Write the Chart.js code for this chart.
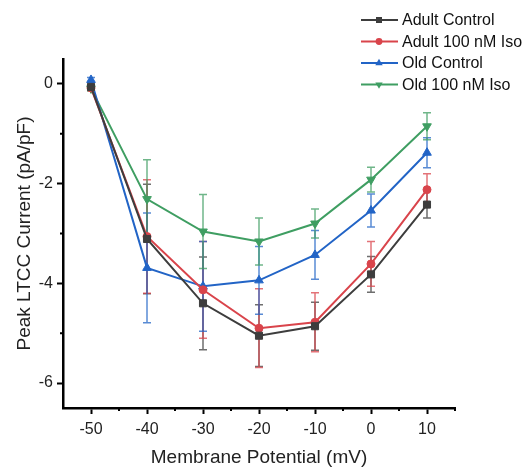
<!DOCTYPE html>
<html>
<head>
<meta charset="utf-8">
<script src="https://cdn.jsdelivr.net/npm/chart.js@4.4.1/dist/chart.umd.min.js"></script>
<style>
    html, body { margin: 0; padding: 0; background: #fff; }
    #wrap { width: 526px; height: 468px; }
</style>
</head>
<body>
<div id="wrap"><canvas id="ivChart" width="526" height="468"></canvas></div>
<script>
// 🔹 data
const voltages = [-50, -40, -30, -20, -10, 0, 10];

const adultControl = [-0.06, -3.11, -4.40, -5.05, -4.86, -3.82, -2.42];
const adultControlErr = [0.05, 1.10, 0.93, 0.62, 0.48, 0.36, 0.27];

const adultIso = [-0.08, -3.06, -4.13, -4.90, -4.78, -3.61, -2.12];
const adultIsoErr = [0.05, 1.14, 0.97, 0.79, 0.59, 0.45, 0.32];

const oldControl = [0.08, -3.69, -4.06, -3.94, -3.43, -2.54, -1.38];
const oldControlErr = [0.05, 1.10, 0.90, 0.68, 0.49, 0.33, 0.30];

const oldIso = [-0.09, -2.31, -2.96, -3.16, -2.80, -1.92, -0.85];
const oldIsoErr = [0.05, 0.79, 0.74, 0.47, 0.29, 0.25, 0.27];

const seriesNames = ["Adult Control", "Adult 100 nM Iso", "Old Control", "Old 100 nM Iso"];

const xTicks = [-50, -40, -30, -20, -10, 0, 10];
const xMinorTicks = [-45, -35, -25, -15, -5, 5, 15];
const yTicks = [0, -2, -4, -6];
const yMinorTicks = [-1, -3, -5];

const FONT = "'Liberation Sans', Arial, sans-serif";

const makeSet = (label, values, errors, color, style, rotation, radius) => ({
    label: label,
    data: voltages.map((v, i) => ({ x: v, y: values[i] })),
    errors: errors,
    borderColor: color,
    backgroundColor: color,
    borderWidth: 2,
    pointStyle: style,
    pointRotation: rotation,
    pointRadius: radius,
    pointBorderWidth: 1,
    pointBorderColor: color,
    tension: 0
});

// error bars (mean ± SEM), drawn under the lines
const errorBars = {
    id: "errorBars",
    beforeDatasetsDraw(chart) {
        const ctx = chart.ctx;
        const xs = chart.scales.x, ys = chart.scales.y;
        chart.data.datasets.forEach(ds => {
            ctx.save();
            ctx.strokeStyle = ds.borderColor;
            ctx.globalAlpha = 0.75;
            ctx.lineWidth = 1.5;
            ds.data.forEach((p, i) => {
                const px = xs.getPixelForValue(p.x);
                const top = ys.getPixelForValue(p.y + ds.errors[i]);
                const bot = ys.getPixelForValue(p.y - ds.errors[i]);
                ctx.beginPath();
                ctx.moveTo(px, top); ctx.lineTo(px, bot);
                ctx.moveTo(px - 4, top); ctx.lineTo(px + 4, top);
                ctx.moveTo(px - 4, bot); ctx.lineTo(px + 4, bot);
                ctx.stroke();
            });
            ctx.restore();
        });
    }
};

// minor ticks on both axes
const minorTicks = {
    id: "minorTicks",
    afterDraw(chart) {
        const ctx = chart.ctx;
        const xs = chart.scales.x, ys = chart.scales.y;
        ctx.save();
        ctx.strokeStyle = "#000";
        ctx.lineWidth = 2;
        ctx.beginPath();
        xMinorTicks.forEach(v => {
            const px = xs.getPixelForValue(v);
            ctx.moveTo(px, chart.chartArea.bottom); ctx.lineTo(px, chart.chartArea.bottom + 3);
        });
        yMinorTicks.forEach(v => {
            const py = ys.getPixelForValue(v);
            ctx.moveTo(chart.chartArea.left, py); ctx.lineTo(chart.chartArea.left - 3, py);
        });
        ctx.stroke();
        ctx.restore();
    }
};

function drawMarker(ctx, style, rotation, x, y, r) {
    ctx.beginPath();
    if (style === "rect") {
        const s = r * Math.SQRT1_2;
        ctx.rect(x - s, y - s, 2 * s, 2 * s);
    } else if (style === "circle") {
        ctx.arc(x, y, r, 0, Math.PI * 2);
    } else {
        const dir = rotation === 180 ? -1 : 1;
        ctx.moveTo(x, y - dir * r);
        ctx.lineTo(x - r * 0.87, y + dir * r * 0.5);
        ctx.lineTo(x + r * 0.87, y + dir * r * 0.5);
        ctx.closePath();
    }
    ctx.fill();
}

// legend in the top right corner
const cornerLegend = {
    id: "cornerLegend",
    afterDraw(chart) {
        const ctx = chart.ctx;
        ctx.save();
        chart.data.datasets.forEach((ds, i) => {
            const y = 20 + i * 21.5;
            ctx.strokeStyle = ds.borderColor;
            ctx.fillStyle = ds.borderColor;
            ctx.lineWidth = 2;
            ctx.beginPath();
            ctx.moveTo(361, y); ctx.lineTo(398, y);
            ctx.stroke();
            drawMarker(ctx, ds.pointStyle, ds.pointRotation, 379, y, ds.pointRadius * 0.85);
            ctx.fillStyle = "#111";
            ctx.font = "16px " + FONT;
            ctx.textBaseline = "middle";
            ctx.textAlign = "left";
            ctx.fillText(ds.label, 402, y + 1);
        });
        ctx.restore();
    }
};

new Chart(document.getElementById("ivChart"), {
    type: "line",
    data: {
        datasets: [
            makeSet(seriesNames[0], adultControl, adultControlErr, "#3d3d3d", "rect", 0, 5),
            makeSet(seriesNames[1], adultIso, adultIsoErr, "#d9444b", "circle", 0, 4),
            makeSet(seriesNames[2], oldControl, oldControlErr, "#2264c6", "triangle", 0, 5),
            makeSet(seriesNames[3], oldIso, oldIsoErr, "#3f9e62", "triangle", 180, 5)
        ]
    },
    options: {
        responsive: false,
        animation: false,
        devicePixelRatio: 1,
        layout: { padding: { top: 59, right: 71, left: 0, bottom: 0 } },
        plugins: { legend: { display: false }, tooltip: { enabled: false } },
        scales: {
            x: {
                type: "linear",
                min: -55,
                max: 15,
                afterBuildTicks: s => { s.ticks = xTicks.map(v => ({ value: v })); },
                afterFit: s => { s.height = 60; },
                grid: { drawOnChartArea: false, tickLength: 6, tickColor: "#000", tickWidth: 2 },
                border: { color: "#000", width: 2.5 },
                ticks: { color: "#222", font: { size: 16, family: FONT }, padding: 6, maxRotation: 0 },
                title: {
                    display: true, text: "Membrane Potential (mV)", color: "#222",
                    font: { size: 19, family: FONT, lineHeight: 1 }, padding: { top: 0, bottom: 1 }
                }
            },
            y: {
                type: "linear",
                min: -6.5,
                max: 0.5,
                afterBuildTicks: s => { s.ticks = yTicks.map(v => ({ value: v })); },
                afterFit: s => { s.width = 63; },
                grid: { drawOnChartArea: false, tickLength: 6, tickColor: "#000", tickWidth: 2 },
                border: { color: "#000", width: 2.5 },
                ticks: { color: "#222", font: { size: 16, family: FONT }, padding: 4 },
                title: {
                    display: true, text: "Peak LTCC Current (pA/pF)", color: "#222",
                    font: { size: 19, family: FONT, lineHeight: 1 }, padding: { top: 15, bottom: 0 }
                }
            }
        }
    },
    plugins: [errorBars, minorTicks, cornerLegend]
});
</script>
</body>
</html>
